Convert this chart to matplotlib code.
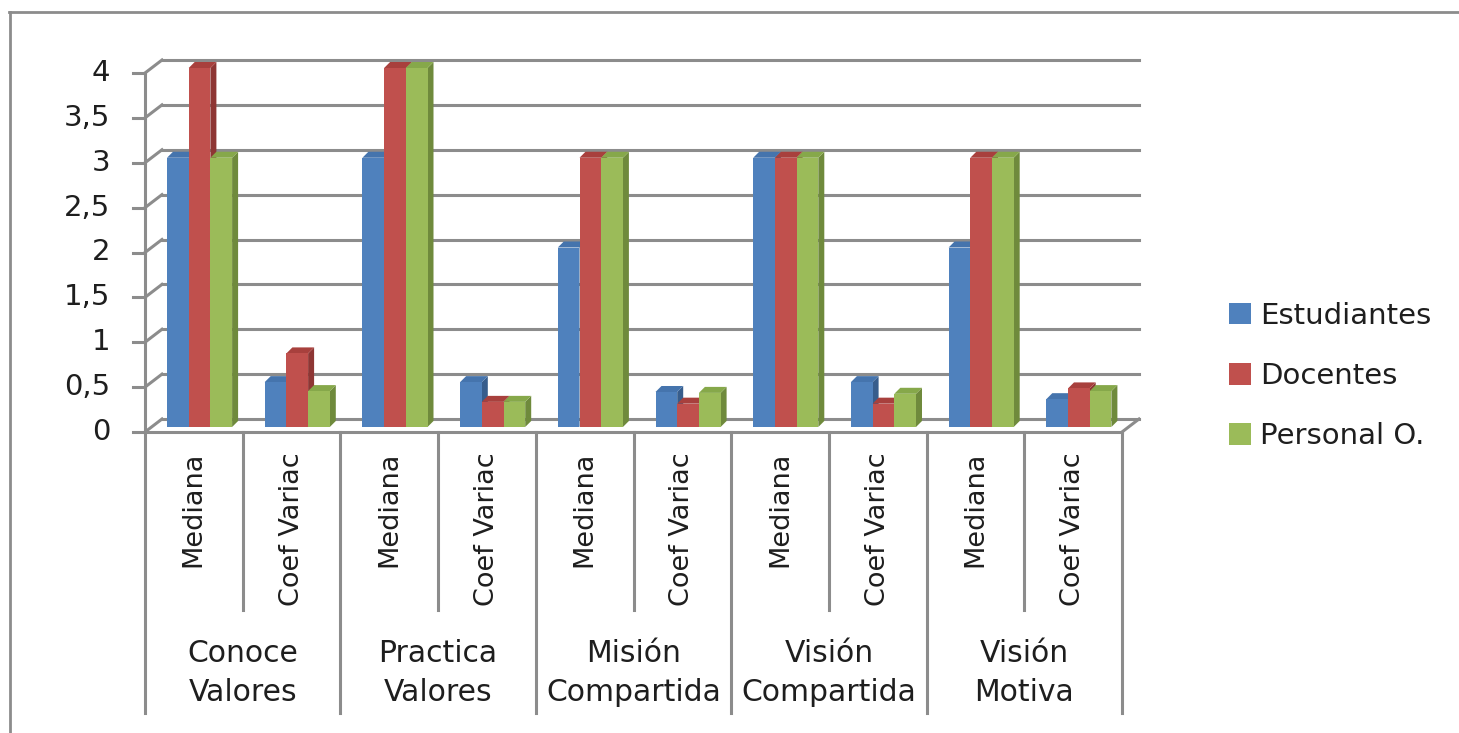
import matplotlib
matplotlib.use("Agg")
import matplotlib.pyplot as plt
from matplotlib.patches import Polygon, Rectangle, Patch
from matplotlib.lines import Line2D

# ---- data ----
groups = ["Conoce\nValores", "Practica\nValores", "Misión\nCompartida", "Visión\nCompartida", "Visión\nMotiva"]
subcats = ["Mediana", "Coef Variac"]
series = ["Estudiantes", "Docentes", "Personal O."]
estudiantes = [3, 0.50, 3, 0.50, 2, 0.39, 3, 0.50, 2, 0.31]
docentes    = [4, 0.82, 4, 0.28, 3, 0.26, 3, 0.26, 3, 0.43]
personal    = [3, 0.40, 4, 0.28, 3, 0.38, 3, 0.37, 3, 0.40]
yticks = [0, 0.5, 1, 1.5, 2, 2.5, 3, 3.5, 4]
yticklabels = ["0", "0,5", "1", "1,5", "2", "2,5", "3", "3,5", "4"]

front = ["#4F81BD", "#C0504D", "#9BBB59"]
side = ["#375D8C", "#8E3634", "#6F8A3C"]
top = ["#4574AD", "#A8403D", "#86A84A"]
grid = "#8C8C8C"
txt = "#1E1E1E"

W, H = 1459, 733
fig = plt.figure(figsize=(W / 100, H / 100), dpi=100)
x0, x1, y0, y1 = 145, 1122, 432, 73  # front-plane pixel frame
ax = fig.add_axes([x0 / W, (H - y0) / H, (x1 - x0) / W, (y0 - y1) / H])
n = len(estudiantes)
ax.set_xlim(0, n)
ax.set_ylim(0, 4)
ax.axis("off")
PX = n / (x1 - x0)
PY = 4 / (y0 - y1)

# back wall offset
bdx, bdy = 17 * PX, 13 * PY
# bar depth / placement
ddx, ddy = 6 * PX, 6 * PY
base = 5 * PY
bw = 21.7 * PX
bstart = 22 * PX

lw = 2.2
# gridlines on back wall + left wall slants
for v, lab in zip(yticks, yticklabels):
    ax.add_line(Line2D([bdx, n + bdx], [v + bdy, v + bdy], color=grid, lw=lw, zorder=1, clip_on=False))
    ax.add_line(Line2D([0, bdx], [v, v + bdy], color=grid, lw=lw, zorder=1, clip_on=False))
    ax.add_line(Line2D([-12 * PX, 0], [v, v], color=grid, lw=lw, zorder=1, clip_on=False))
    ax.text(-35 * PX, v, lab, ha="right", va="center", fontsize=21, color=txt)
# front axis line and floor
ax.add_line(Line2D([0, 0], [0, 4], color=grid, lw=lw, zorder=1, clip_on=False))
ax.add_line(Line2D([0, n], [0, 0], color=grid, lw=lw, zorder=1, clip_on=False))
ax.add_line(Line2D([n, n + bdx], [0, bdy], color=grid, lw=lw, zorder=1, clip_on=False))

# bars
data = [estudiantes, docentes, personal]
for i in range(n):
    for s in range(3):
        v = data[s][i]
        xl = i + bstart + s * bw
        xr = xl + bw
        yb, yt = base, base + v
        z = 3 + s
        ax.add_patch(Polygon([(xr, yb), (xr + ddx, yb + ddy), (xr + ddx, yt + ddy), (xr, yt)],
                             closed=True, fc=side[s], ec="none", zorder=z, clip_on=False))
        ax.add_patch(Polygon([(xl, yt), (xl + ddx, yt + ddy), (xr + ddx, yt + ddy), (xr, yt)],
                             closed=True, fc=top[s], ec="none", zorder=z, clip_on=False))
        ax.add_patch(Rectangle((xl, yb), bw, v, fc=front[s], ec="none", zorder=z, clip_on=False))

# category axis dividers
sub_bottom = 4 - (610 - y1) * PY
grp_bottom = 4 - (713 - y1) * PY
for i in range(n + 1):
    yb = grp_bottom if i % 2 == 0 else sub_bottom
    ax.add_line(Line2D([i, i], [0, yb], color=grid, lw=lw, zorder=1, clip_on=False))
sub_top = 4 - (452 - y1) * PY
for i in range(n):
    ax.text(i + 0.5, sub_top, subcats[i % 2], rotation=90, ha="center", va="top",
            fontsize=19.5, color=txt)
grp_y = 4 - (673 - y1) * PY
for g, name in enumerate(groups):
    ax.text(2 * g + 1, grp_y, name, ha="center", va="center", fontsize=21.5,
            color=txt, linespacing=1.45, multialignment="center")

# legend
handles = [Patch(facecolor=c, edgecolor="none") for c in front]
fig.legend(handles, series, loc="center left", bbox_to_anchor=(1229 / W, (H - 376) / H),
           frameon=False, fontsize=21, handlelength=0.75, handleheight=0.75,
           handletextpad=0.33, labelspacing=1.1, borderpad=0, borderaxespad=0,
           labelcolor=txt)

# outer border (top and left)
fig.add_artist(Line2D([9 / W, 1], [(H - 12) / H, (H - 12) / H], color="#8C8C8C", lw=2, transform=fig.transFigure))
fig.add_artist(Line2D([10 / W, 10 / W], [(H - 12) / H, 0], color="#8C8C8C", lw=2, transform=fig.transFigure))

fig.savefig("out.png", dpi=100, facecolor="white")
